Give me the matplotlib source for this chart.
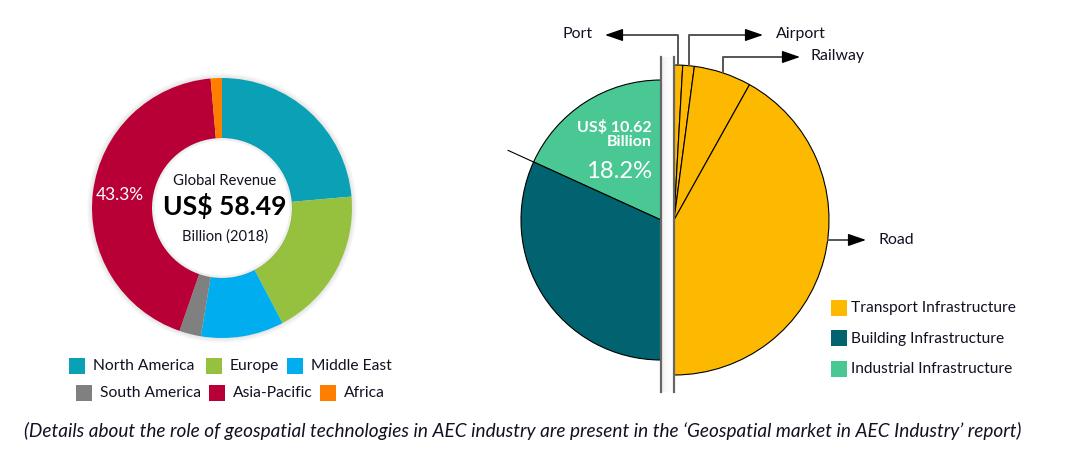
"""
plot.py -- AEC geospatial market: revenue by region and by infrastructure sector.
"""

import numpy as np
import matplotlib
matplotlib.use("Agg")
import matplotlib.pyplot as plt
from matplotlib.patches import Rectangle, Circle

plt.rcParams["font.family"] = ["Lato", "DejaVu Sans"]

# ---------------------------------------------------------------------------
# Data
# ---------------------------------------------------------------------------
regions = ["North America", "Europe", "Middle East",
           "South America", "Asia-Pacific", "Africa"]
region_share = [23.6, 18.7, 10.3, 2.7, 43.3, 1.4]
region_colors = ["#0AA1B6", "#96C13F", "#00AEEF", "#808080", "#B80036", "#FF7E00"]

sectors = ["Transport Infrastructure", "Building Infrastructure", "Industrial Infrastructure"]
sector_share = [50.0, 31.8, 18.2]
sector_colors = ["#FDB800", "#00636F", "#49C894"]

transport_modes = ["Port", "Airport", "Railway", "Road"]
transport_share = [0.9, 1.2, 6.0, 41.9]

industrial_value = "US$ 10.62\nBillion"
# ---------------------------------------------------------------------------

W, H = 1069, 465
TXT = "#111122"
ARW = "#555555"
HEAD = dict(arrowstyle="-|>,head_length=1.1,head_width=0.38",
            color="black", lw=1.0, mutation_scale=10, shrinkA=0, shrinkB=0)


def Y(y):
    """image row -> axes y (origin at bottom)"""
    return H - y


fig = plt.figure(figsize=(W / 100, H / 100), dpi=100)
ax = fig.add_axes([0, 0, 1, 1])
renderer = fig.canvas.get_renderer()


def fit(texts, width):
    """scale font of texts so the first one is `width` pixels wide"""
    w = texts[0].get_window_extent(renderer).width
    fs = texts[0].get_fontsize() * width / w
    for t in texts:
        t.set_fontsize(fs)


# ---- left: donut by region ------------------------------------------------
dc = (222, Y(208))
dr = 130
for i in range(5):
    ax.add_patch(Circle(dc, dr + 1 + i, color="#000000", alpha=0.02, lw=0, zorder=0))
ax.add_patch(Circle(dc, 70, color="white", lw=0, zorder=0.5))
for i in range(3):
    ax.add_patch(Circle(dc, 70 - i, fill=False, ec="black", alpha=0.04, lw=1.2, zorder=2))

ap = region_share[regions.index("Asia-Pacific")]
_, _, pct = ax.pie(region_share, colors=region_colors, radius=dr, center=dc,
                   startangle=90, counterclock=False,
                   wedgeprops=dict(width=60, edgecolor="none"),
                   autopct=lambda p: f"{p:.1f}%" if abs(p - ap) < 0.05 else "",
                   pctdistance=0.79,
                   textprops=dict(color="white", fontsize=13))
fit([pct[regions.index("Asia-Pacific")]], 48)

t1 = ax.text(dc[0] + 3, Y(181), "Global Revenue", ha="center", va="center",
             fontsize=10, color=TXT)
t2 = ax.text(dc[0] + 3, Y(206), "US$ 58.49", ha="center", va="center",
             fontsize=20, fontweight="bold", color="black")
t3 = ax.text(dc[0] + 3, Y(237), "Billion (2018)", ha="center", va="center",
             fontsize=10, color=TXT)
fit([t1], 103)
fit([t2], 124)
fit([t3], 86)

# legend under donut (two rows of three)
leg_pos = [(69, 366), (206, 366), (287, 366), (76, 393), (209, 393), (320, 393)]
leg_txt = []
for (lx, ly), name, col in zip(leg_pos, regions, region_colors):
    ax.add_patch(Rectangle((lx, Y(ly) - 8), 16, 16, color=col, lw=0))
    leg_txt.append(ax.text(lx + 24, Y(ly), name, ha="left", va="center",
                           fontsize=11, color=TXT))
fit(leg_txt, 101)

# ---- right: split pie by sector ---------------------------------------------
lc = (661, Y(220))
lr = 140
rc = (674, Y(220))
rr = 155

# left half: industrial + building, transport half hidden
wl, _ = ax.pie([sector_share[2], sector_share[1], sector_share[0]],
               colors=[sector_colors[2], sector_colors[1], "none"],
               radius=lr, center=lc, startangle=90, counterclock=True,
               wedgeprops=dict(edgecolor="black", linewidth=0.8))
wl[-1].set_visible(False)

# right half: transport split by mode, other half hidden
wr, _ = ax.pie(transport_share + [100 - sum(transport_share)],
               colors=[sector_colors[0]] * 4 + ["none"],
               radius=rr, center=rc, startangle=90, counterclock=False,
               wedgeprops=dict(edgecolor="black", linewidth=0.8))
wr[-1].set_visible(False)

# leader line continuing the industrial / building boundary
a = np.radians(90 + 3.6 * sector_share[2])
ax.plot([lc[0] + lr * np.cos(a), lc[0] + (lr + 28) * np.cos(a)],
        [lc[1] + lr * np.sin(a), lc[1] + (lr + 28) * np.sin(a)],
        color="black", lw=0.8)

# gap between the two halves
for k, al in enumerate([0.05, 0.035, 0.025, 0.015, 0.01]):
    ax.add_patch(Rectangle((662 + k * 2, Y(392)), 2, 335, color="black", alpha=al, lw=0))
for gx in (661, 674):
    ax.plot([gx, gx], [Y(57), Y(392)], color="#666666", lw=1.6, zorder=5)

tv = ax.text(652, Y(134), industrial_value, ha="right", va="center",
             fontsize=12, fontweight="bold", color="white", linespacing=1.0)
fit([tv], 75)
tp = ax.text(652, Y(171), f"{sector_share[2]}%", ha="right", va="center",
             fontsize=18, color="white")
fit([tp], 66)

# mode call-outs
cum = np.cumsum([0] + transport_share)
mids = [3.6 * (cum[i] + cum[i + 1]) / 2 for i in range(4)]
callouts = [  # elbow row, arrow tip x, text x, alignment
    (35, 605, 593, "right"),
    (35, 763, 776, "left"),
    (57, 800, 810, "left"),
]
mode_txt = []
for mode, ang, (ey, tip, tx, ha) in zip(transport_modes[:3], mids[:3], callouts):
    t = np.radians(ang)
    sx, sy = rc[0] + rr * np.sin(t), rc[1] + rr * np.cos(t)
    d = -1 if tip < sx else 1
    ax.plot([sx, sx, tip - d * 6], [sy + 1, Y(ey), Y(ey)], color=ARW, lw=1.4)
    ax.annotate("", xy=(tip, Y(ey)), xytext=(tip - d * 12, Y(ey)), arrowprops=HEAD)
    mode_txt.append(ax.text(tx, Y(ey) + 1, mode, ha=ha, va="center",
                            fontsize=11.5, color=TXT))

# road: horizontal call-out from the right edge
t = np.radians(97.4)
sx, sy = rc[0] + rr * np.sin(t), rc[1] + rr * np.cos(t)
ax.plot([sx, 860], [sy, sy], color=ARW, lw=1.4)
ax.annotate("", xy=(866, sy), xytext=(854, sy), arrowprops=HEAD)
mode_txt.append(ax.text(878, sy, transport_modes[3], ha="left", va="center",
                        fontsize=11.5, color=TXT))
fit([mode_txt[1]] + mode_txt, 50)

# sector legend
sec_txt = []
for i, (name, col) in enumerate(zip(sectors, sector_colors)):
    ly = 308 + 30.5 * i
    ax.add_patch(Rectangle((831, Y(ly) - 8), 16, 16, color=col, lw=0))
    sec_txt.append(ax.text(851, Y(ly), name, ha="left", va="center",
                           fontsize=11, color=TXT))
fit(sec_txt, 164)

# caption
cap = ax.text(523, Y(431),
              "(Details about the role of geospatial technologies in AEC industry are present "
              "in the \u2018Geospatial market in AEC Industry\u2019 report)",
              ha="center", va="center", fontsize=13.5, style="italic", color=TXT)
fit([cap], 997)

ax.set_xlim(0, W)
ax.set_ylim(0, H)
ax.set_aspect("equal")
ax.axis("off")

fig.savefig("out.png", dpi=100)
